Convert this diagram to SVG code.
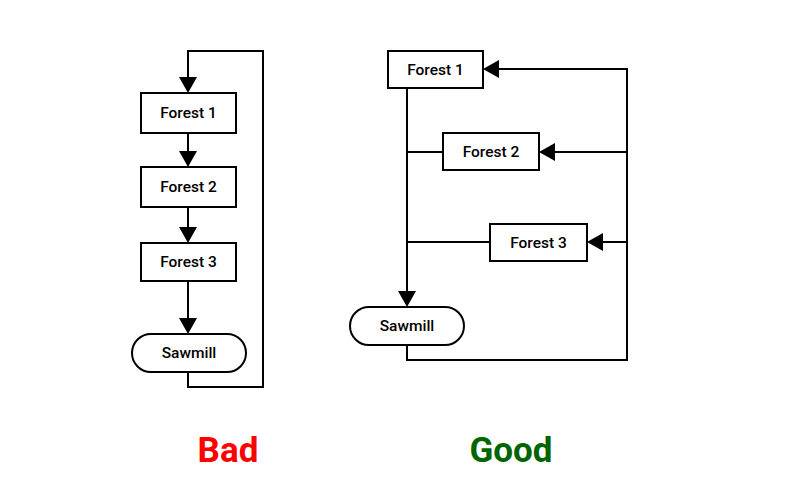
<svg xmlns="http://www.w3.org/2000/svg" width="800" height="500" viewBox="0 0 800 500">
<defs>
<style>
.box{fill:#fff;stroke:#000;stroke-width:2}
.lbl{font-family:Roboto,"Liberation Sans",sans-serif;font-size:15.5px;font-weight:500;fill:#000;text-anchor:middle;dominant-baseline:central}
.ln{fill:none;stroke:#000;stroke-width:2}
.hd{fill:#000}
.ttl{font-family:Roboto,"Liberation Sans",sans-serif;font-size:35px;font-weight:bold;text-anchor:middle}
</style>
</defs>
<rect width="800" height="500" fill="#fff"/>
<g id="connectors">
<path class="ln" d="M188 372 V387 H263 V51 H188 V78"/>
<path class="ln" d="M188 133 V152"/>
<path class="ln" d="M188 207 V228"/>
<path class="ln" d="M188 281 V319"/>
<polygon class="hd" points="179,77 197,77 188,93"/>
<polygon class="hd" points="179,151 197,151 188,167"/>
<polygon class="hd" points="179,227 197,227 188,243"/>
<polygon class="hd" points="179,318 197,318 188,334"/>
<path class="ln" d="M407 88 V292"/>
<path class="ln" d="M407 152 H443"/>
<path class="ln" d="M407 242 H490"/>
<path class="ln" stroke-width="2.5" d="M407 345 V360 H627 V69 H499"/>
<path class="ln" d="M627 152 H555"/>
<path class="ln" d="M627 242 H603"/>
<polygon class="hd" points="398,291 416,291 407,307"/>
<polygon class="hd" points="499,60 499,78 483,69"/>
<polygon class="hd" points="555,143 555,161 539,152"/>
<polygon class="hd" points="603,233 603,251 587,242"/>
</g>
<g id="bad-forest1"><rect class="box" x="141" y="93" width="95" height="40"/><text class="lbl" x="188.5" y="113">Forest 1</text></g>
<g id="bad-forest2"><rect class="box" x="141" y="167" width="95" height="40"/><text class="lbl" x="188.5" y="187">Forest 2</text></g>
<g id="bad-forest3"><rect class="box" x="141" y="243" width="95" height="38"/><text class="lbl" x="188.5" y="262">Forest 3</text></g>
<g id="bad-sawmill"><rect class="box" x="132" y="334" width="114" height="38" rx="19"/><text class="lbl" x="189" y="353">Sawmill</text></g>
<g id="good-forest1"><rect class="box" x="388" y="51" width="95" height="37"/><text class="lbl" x="435.5" y="69.5">Forest 1</text></g>
<g id="good-forest2"><rect class="box" x="443" y="133" width="96" height="37"/><text class="lbl" x="491" y="151.5">Forest 2</text></g>
<g id="good-forest3"><rect class="box" x="490" y="224" width="97" height="37"/><text class="lbl" x="538.5" y="242.5">Forest 3</text></g>
<g id="good-sawmill"><rect class="box" x="350" y="307" width="114" height="38" rx="19"/><text class="lbl" x="407" y="326">Sawmill</text></g>
<text class="ttl" x="228" y="462" fill="#ff0000">Bad</text>
<text class="ttl" x="511" y="462" fill="#006400">Good</text>
</svg>
